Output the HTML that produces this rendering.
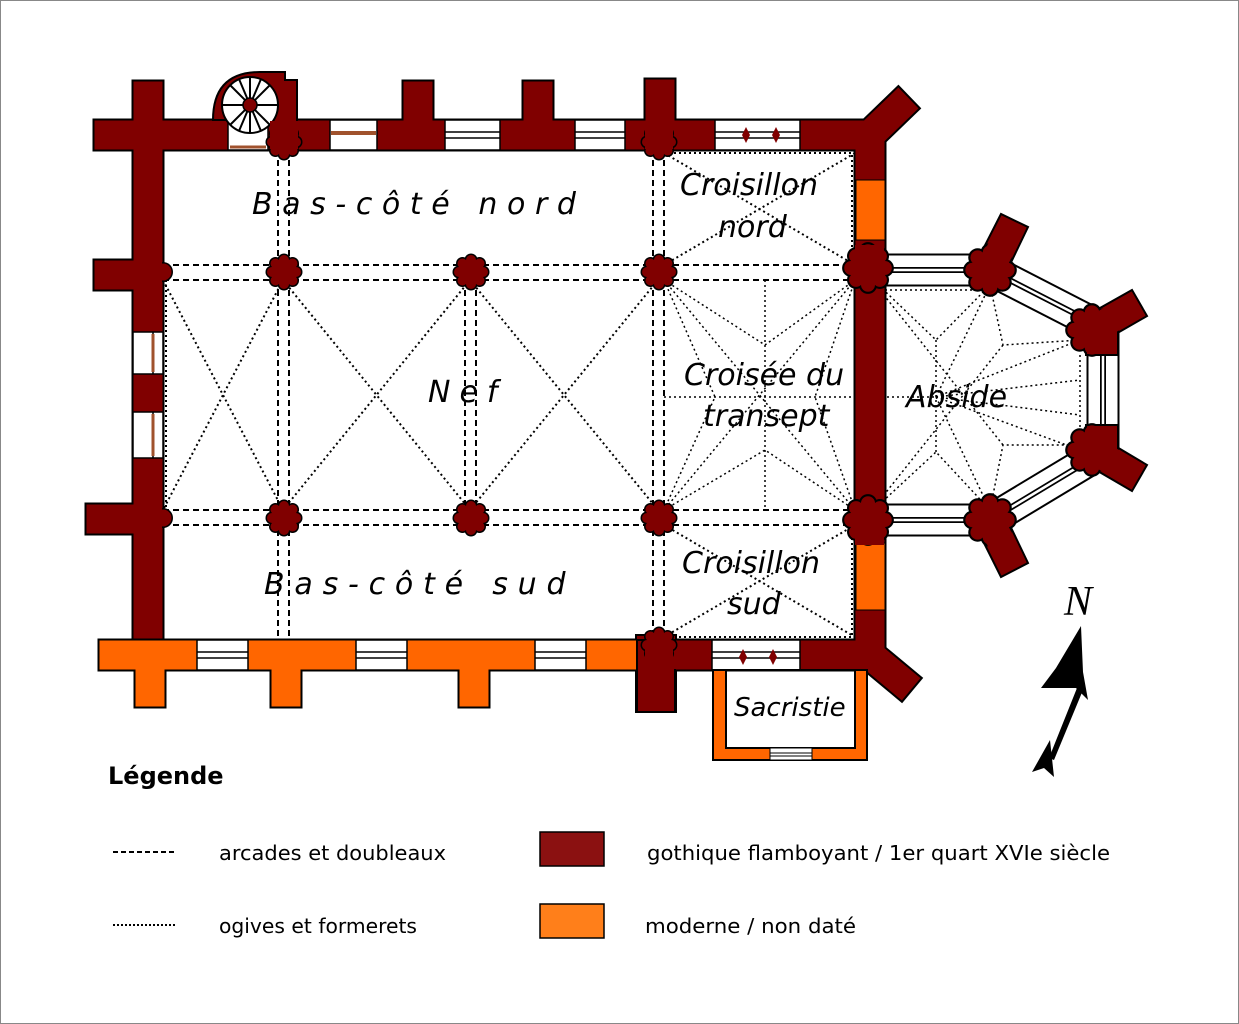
<!DOCTYPE html>
<html><head><meta charset="utf-8"><style>
html,body{margin:0;padding:0;background:#fff}
svg{display:block}
.t{font-family:"DejaVu Sans","Liberation Sans",sans-serif;font-style:italic;fill:#000}
</style></head><body>
<svg width="1239" height="1024" viewBox="0 0 1239 1024" xmlns="http://www.w3.org/2000/svg">
<rect x="0.5" y="0.5" width="1238" height="1023" fill="#fff" stroke="#888" stroke-width="1"/>
<defs>
<g id="pb"><circle r="14.5"/><circle cx="0" cy="-12" r="6.5"/><circle cx="0" cy="12" r="6.5"/><circle cx="-12" cy="0" r="6.5"/><circle cx="12" cy="0" r="6.5"/><circle cx="8.5" cy="8.5" r="6.5"/><circle cx="-8.5" cy="8.5" r="6.5"/><circle cx="8.5" cy="-8.5" r="6.5"/><circle cx="-8.5" cy="-8.5" r="6.5"/></g>
<g id="pf"><circle r="13"/><circle cx="0" cy="-12" r="5"/><circle cx="0" cy="12" r="5"/><circle cx="-12" cy="0" r="5"/><circle cx="12" cy="0" r="5"/><circle cx="8.5" cy="8.5" r="5"/><circle cx="-8.5" cy="8.5" r="5"/><circle cx="8.5" cy="-8.5" r="5"/><circle cx="-8.5" cy="-8.5" r="5"/></g>
</defs>

<!-- dashed arcades -->
<g stroke="#000" stroke-width="2" stroke-dasharray="6,4" fill="none">
<line x1="163" y1="265" x2="855" y2="265"/><line x1="163" y1="280" x2="855" y2="280"/>
<line x1="163" y1="510" x2="855" y2="510"/><line x1="163" y1="525" x2="855" y2="525"/>
<line x1="278" y1="150" x2="278" y2="640"/><line x1="289" y1="150" x2="289" y2="640"/>
<line x1="465" y1="280" x2="465" y2="510"/><line x1="476" y1="280" x2="476" y2="510"/>
<line x1="653" y1="150" x2="653" y2="640"/><line x1="664" y1="150" x2="664" y2="640"/>
<line x1="858" y1="280" x2="858" y2="510"/><line x1="872" y1="280" x2="872" y2="510"/>
</g>
<g stroke="#000" stroke-width="2" stroke-dasharray="2,3" fill="none">
<line x1="166" y1="280" x2="166" y2="510"/>
<line x1="163" y1="280" x2="283" y2="510"/><line x1="283" y1="280" x2="163" y2="510"/>
<line x1="283" y1="280" x2="470" y2="510"/><line x1="470" y1="280" x2="283" y2="510"/>
<line x1="470" y1="280" x2="658" y2="510"/><line x1="658" y1="280" x2="470" y2="510"/>
<polyline points="664,153 852,153 852,265"/>
<line x1="664" y1="153" x2="855" y2="265"/><line x1="855" y1="153" x2="664" y2="265"/>
<polyline points="664,637 852,637 852,525"/>
<line x1="664" y1="525" x2="855" y2="637"/><line x1="855" y1="525" x2="664" y2="637"/>
</g>
<g stroke="#000" stroke-width="1.5" stroke-dasharray="2,3" fill="none">
<line x1="765" y1="280" x2="765" y2="510"/><line x1="664" y1="397" x2="855" y2="397"/>
<line x1="664" y1="280" x2="855" y2="510"/><line x1="855" y1="280" x2="664" y2="510"/>
<polyline points="664,280 765,345 855,280"/><polyline points="664,510 765,450 855,510"/>
<polyline points="664,280 715,397 664,510"/><polyline points="855,280 815,397 855,510"/>
<line x1="872" y1="397" x2="936" y2="397"/>
<polyline points="885,290 985,290"/><polyline points="885,505 985,505"/><line x1="1080" y1="355" x2="1080" y2="440"/>
<polyline points="868,275 936,340 990,285"/><polyline points="868,515 936,452 990,510"/>
<line x1="936" y1="340" x2="936" y2="452"/>
<polyline points="990,285 1003,345 1080,340"/><polyline points="990,510 1003,445 1080,445"/>
<line x1="868" y1="275" x2="1003" y2="445"/><line x1="868" y1="515" x2="1003" y2="345"/>
<line x1="936" y1="397" x2="1080" y2="340"/><line x1="936" y1="397" x2="1080" y2="450"/>
<line x1="936" y1="397" x2="990" y2="285"/><line x1="936" y1="397" x2="990" y2="510"/>
<line x1="936" y1="397" x2="1080" y2="380"/><line x1="936" y1="397" x2="1080" y2="415"/>
</g>

<!-- walls -->
<g fill="none" stroke-linejoin="miter" stroke-linecap="square">
<g stroke="#000" stroke-width="33">
<polyline points="148,96 148,624"/>
<line x1="109" y1="135" x2="870" y2="135"/>
<line x1="109" y1="275" x2="148" y2="275"/><line x1="101" y1="519" x2="148" y2="519"/>
<line x1="418" y1="96" x2="418" y2="120"/><line x1="538" y1="96" x2="538" y2="120"/><line x1="660" y1="94" x2="660" y2="120"/>
<line x1="870" y1="135" x2="870" y2="655"/>
<line x1="870" y1="135" x2="898" y2="108"/>
<line x1="870" y1="655" x2="900" y2="680"/>
<line x1="114" y1="655" x2="870" y2="655"/>
<line x1="150" y1="655" x2="150" y2="692"/><line x1="286" y1="655" x2="286" y2="692"/><line x1="474" y1="655" x2="474" y2="692"/>
</g>
<g stroke="#000" stroke-width="33" stroke-linecap="butt">
<line x1="885" y1="270" x2="990" y2="270"/><line x1="990" y1="270" x2="1103" y2="328"/><line x1="1103" y1="328" x2="1103" y2="452"/><line x1="1103" y1="452" x2="990" y2="520"/><line x1="990" y1="520" x2="885" y2="520"/>
</g>
<line x1="656" y1="655" x2="656" y2="692" stroke="#000" stroke-width="42"/>
<g stroke-width="29">
<polyline points="148,96 148,624" stroke="#800000"/>
<line x1="109" y1="135" x2="870" y2="135" stroke="#800000"/>
<line x1="109" y1="275" x2="148" y2="275" stroke="#800000"/><line x1="101" y1="519" x2="148" y2="519" stroke="#800000"/>
<line x1="418" y1="96" x2="418" y2="120" stroke="#800000"/><line x1="538" y1="96" x2="538" y2="120" stroke="#800000"/><line x1="660" y1="94" x2="660" y2="120" stroke="#800000"/>
<line x1="870" y1="135" x2="870" y2="655" stroke="#800000"/>
<line x1="870" y1="135" x2="898" y2="108" stroke="#800000"/>
<line x1="870" y1="655" x2="900" y2="680" stroke="#800000"/>
<line x1="114" y1="655" x2="625" y2="655" stroke="#ff6600"/>
<line x1="655" y1="655" x2="870" y2="655" stroke="#800000"/>
<line x1="150" y1="655" x2="150" y2="692" stroke="#ff6600"/><line x1="286" y1="655" x2="286" y2="692" stroke="#ff6600"/><line x1="474" y1="655" x2="474" y2="692" stroke="#ff6600"/>
</g>
<line x1="656" y1="655" x2="656" y2="692" stroke="#800000" stroke-width="38"/>
<g stroke="#fff" stroke-width="29" stroke-linecap="butt"><line x1="885" y1="270" x2="990" y2="270"/><line x1="990" y1="270" x2="1103" y2="328"/><line x1="1103" y1="328" x2="1103" y2="452"/><line x1="1103" y1="452" x2="990" y2="520"/><line x1="990" y1="520" x2="885" y2="520"/></g>
<g stroke="#000" stroke-width="6" stroke-linecap="butt"><line x1="885" y1="270" x2="990" y2="270"/><line x1="990" y1="270" x2="1103" y2="328"/><line x1="1103" y1="328" x2="1103" y2="452"/><line x1="1103" y1="452" x2="990" y2="520"/><line x1="990" y1="520" x2="885" y2="520"/></g>
<g stroke="#fff" stroke-width="2.5" stroke-linecap="butt"><line x1="885" y1="270" x2="990" y2="270"/><line x1="990" y1="270" x2="1103" y2="328"/><line x1="1103" y1="328" x2="1103" y2="452"/><line x1="1103" y1="452" x2="990" y2="520"/><line x1="990" y1="520" x2="885" y2="520"/></g>
</g>
<rect x="637" y="640" width="38" height="72" fill="#800000" stroke="#000" stroke-width="2"/>
<rect x="638" y="641" width="40" height="28" fill="#800000"/>
<rect x="856" y="180" width="29" height="60" fill="#ff6600" stroke="#000" stroke-width="1"/>
<rect x="856" y="543" width="29" height="67" fill="#ff6600" stroke="#000" stroke-width="1"/>
<!-- Y buttresses -->
<g fill="#800000" stroke="#000" stroke-width="2">
<polygon points="976,263 1001,214 1028,227 1004,277"/>
<polygon points="1084,317 1132,290 1147,316 1100,343"/>
<polygon points="1100,437 1147,465 1132,491 1084,463"/>
<polygon points="1004,513 1028,563 1001,577 976,527"/>
<rect x="1086" y="312" width="32" height="43"/><rect x="1086" y="425" width="32" height="43"/>
</g>
<g fill="#000"><use href="#pb" transform="translate(990,270) scale(1.45)"/><use href="#pb" transform="translate(1092,330) scale(1.45)"/><use href="#pb" transform="translate(1092,450) scale(1.45)"/><use href="#pb" transform="translate(990,520) scale(1.45)"/></g>
<g fill="#800000"><use href="#pf" transform="translate(990,270) scale(1.45)"/><use href="#pf" transform="translate(1092,330) scale(1.45)"/><use href="#pf" transform="translate(1092,450) scale(1.45)"/><use href="#pf" transform="translate(990,520) scale(1.45)"/>
<polygon points="978,264 1002,216 1026,228 1003,275"/><polygon points="1086,318 1132,292 1145,316 1100,341"/><polygon points="1100,439 1145,465 1132,489 1086,462"/><polygon points="1003,515 1026,562 1002,575 978,526"/>
<rect x="1087" y="313" width="30" height="41"/><rect x="1087" y="426" width="30" height="41"/></g>
<!-- windows -->
<g fill="#fff" stroke="#000" stroke-width="1.5">
<rect x="133" y="332" width="30" height="42"/><rect x="133" y="412" width="30" height="46"/>
<rect x="330" y="120" width="47" height="30"/><rect x="445" y="120" width="55" height="30"/><rect x="575" y="120" width="50" height="30"/><rect x="715" y="120" width="85" height="30"/>
<rect x="197" y="640" width="51" height="30"/><rect x="356" y="640" width="51" height="30"/><rect x="535" y="640" width="51" height="30"/><rect x="712" y="640" width="88" height="30"/>
</g>
<g stroke="#000" stroke-width="1.5">
<line x1="153" y1="332" x2="153" y2="374"/><line x1="153" y1="412" x2="153" y2="458"/>
<line x1="445" y1="132" x2="500" y2="132"/><line x1="445" y1="138" x2="500" y2="138"/>
<line x1="575" y1="132" x2="625" y2="132"/><line x1="575" y1="138" x2="625" y2="138"/>
<line x1="715" y1="132" x2="800" y2="132"/><line x1="715" y1="138" x2="800" y2="138"/>
<line x1="712" y1="652" x2="800" y2="652"/><line x1="712" y1="658" x2="800" y2="658"/>
<line x1="197" y1="652" x2="248" y2="652"/><line x1="197" y1="658" x2="248" y2="658"/>
<line x1="356" y1="652" x2="407" y2="652"/><line x1="356" y1="658" x2="407" y2="658"/>
<line x1="535" y1="652" x2="586" y2="652"/><line x1="535" y1="658" x2="586" y2="658"/>
</g>
<line x1="153" y1="334" x2="153" y2="372" stroke="#a0522d" stroke-width="3"/><line x1="153" y1="414" x2="153" y2="456" stroke="#a0522d" stroke-width="3"/>
<line x1="331" y1="133" x2="376" y2="133" stroke="#a0522d" stroke-width="4"/>
<g fill="#800000"><polygon points="746,127 750,135 746,143 742,135"/><polygon points="776,127 780,135 776,143 772,135"/><polygon points="743,649 747,657 743,665 739,657"/><polygon points="773,649 777,657 773,665 769,657"/></g>
<!-- spiral stair -->
<path d="M213,120 Q213,72 260,72 L285,72 L285,80 L297,80 L297,150 L230,150 L230,120 Z" fill="#800000" stroke="#000" stroke-width="2"/>
<rect x="228" y="110" width="40" height="40" fill="#fff" stroke="#000" stroke-width="1.5"/>
<line x1="230" y1="147" x2="266" y2="147" stroke="#a0522d" stroke-width="3"/>
<circle cx="250" cy="105" r="28" fill="#fff" stroke="#000" stroke-width="2"/>
<g stroke="#000" stroke-width="2"><line x1="250" y1="77" x2="250" y2="133"/><line x1="222" y1="105" x2="278" y2="105"/><line x1="230" y1="85" x2="270" y2="125"/><line x1="270" y1="85" x2="230" y2="125"/><line x1="239" y1="79" x2="261" y2="131"/><line x1="261" y1="79" x2="239" y2="131"/></g>
<circle cx="250" cy="105" r="7" fill="#800000" stroke="#000" stroke-width="1.5"/>
<!-- sacristy -->
<path d="M713,670 L867,670 L867,760 L713,760 Z M726,670 L726,748 L855,748 L855,670 Z" fill="#ff6600" fill-rule="evenodd" stroke="#000" stroke-width="2"/>
<rect x="770" y="748" width="42" height="12" fill="#fff" stroke="#000" stroke-width="1"/>
<line x1="770" y1="753" x2="812" y2="753" stroke="#000"/><line x1="770" y1="756" x2="812" y2="756" stroke="#000"/>
<!-- piers -->
<g fill="#000">
<use href="#pb" x="284" y="272"/><use href="#pb" x="471" y="272"/><use href="#pb" x="659" y="272"/>
<use href="#pb" x="284" y="518"/><use href="#pb" x="471" y="518"/><use href="#pb" x="659" y="518"/>
<use href="#pb" transform="translate(868,268) scale(1.4)"/><use href="#pb" transform="translate(868,520) scale(1.4)"/>
<use href="#pb" x="284" y="142"/><use href="#pb" x="659" y="142"/><use href="#pb" x="659" y="645"/>
<circle cx="163" cy="272" r="10"/><circle cx="163" cy="518" r="10"/>
</g>
<g fill="#800000">
<use href="#pf" x="284" y="272"/><use href="#pf" x="471" y="272"/><use href="#pf" x="659" y="272"/>
<use href="#pf" x="284" y="518"/><use href="#pf" x="471" y="518"/><use href="#pf" x="659" y="518"/>
<use href="#pf" transform="translate(868,268) scale(1.4)"/><use href="#pf" transform="translate(868,520) scale(1.4)"/>
<use href="#pf" x="284" y="142"/><use href="#pf" x="659" y="142"/><use href="#pf" x="659" y="645"/>
<rect x="270" y="121" width="28" height="28"/><rect x="645" y="121" width="28" height="28"/><rect x="645" y="641" width="28" height="28"/>
<rect x="855" y="245" width="29" height="20"/><rect x="855" y="525" width="29" height="20"/>
<circle cx="163" cy="272" r="8.5"/><circle cx="163" cy="518" r="8.5"/>
<rect x="134" y="262" width="28" height="22"/><rect x="134" y="508" width="28" height="22"/>
</g>

<!-- labels -->
<text class="t" x="252" y="214" font-size="30" letter-spacing="9.6">Bas-côté nord</text>
<text class="t" x="428" y="402" font-size="30" letter-spacing="9">Nef</text>
<text class="t" x="264" y="594" font-size="30" letter-spacing="9.8">Bas-côté sud</text>
<text class="t" x="680" y="195" font-size="30">Croisillon</text>
<text class="t" x="718" y="237" font-size="30">nord</text>
<text class="t" x="684" y="385" font-size="30">Croisée du</text>
<text class="t" x="703" y="426" font-size="30">transept</text>
<text class="t" x="906" y="407" font-size="30">Abside</text>
<text class="t" x="682" y="573" font-size="30">Croisillon</text>
<text class="t" x="727" y="614" font-size="30">sud</text>
<text class="t" x="734" y="716" font-size="26">Sacristie</text>

<!-- north arrow -->
<text x="1064" y="615" font-family="Liberation Serif,serif" font-style="italic" font-size="42">N</text>
<polygon points="1081,626 1083,672 1088,700 1076,688 1041,688 1056,668" fill="#000"/>
<polygon points="1077,688 1083,690 1054,760 1049,758" fill="#000"/>
<polygon points="1032,772 1050,740 1054,777 1044,768" fill="#000"/>

<!-- legend -->
<text x="108" y="784" font-family="DejaVu Sans,Liberation Sans,sans-serif" font-weight="bold" font-size="24">Légende</text>
<line x1="113" y1="852" x2="177" y2="852" stroke="#000" stroke-width="2" stroke-dasharray="5,3"/>
<line x1="113" y1="925" x2="177" y2="925" stroke="#000" stroke-width="2" stroke-dasharray="2,2"/>
<g font-family="DejaVu Sans,Liberation Sans,sans-serif" font-size="20">
<text x="219" y="860" textLength="227" lengthAdjust="spacingAndGlyphs">arcades et doubleaux</text>
<text x="219" y="933" textLength="198" lengthAdjust="spacingAndGlyphs">ogives et formerets</text>
<text x="647" y="860" textLength="463" lengthAdjust="spacingAndGlyphs">gothique flamboyant / 1er quart XVIe siècle</text>
<text x="645" y="933" textLength="211" lengthAdjust="spacingAndGlyphs">moderne / non daté</text>
</g>
<rect x="540" y="832" width="64" height="34" fill="#8b1111" stroke="#000" stroke-width="1.5"/>
<rect x="540" y="904" width="64" height="34" fill="#ff7f1a" stroke="#000" stroke-width="1.5"/>
</svg>
</body></html>
